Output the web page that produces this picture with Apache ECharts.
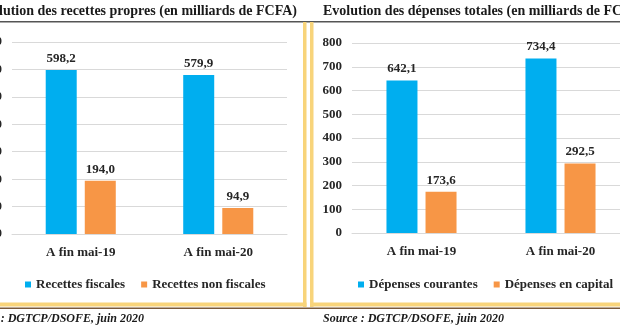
<!DOCTYPE html>
<html>
<head>
<meta charset="utf-8">
<script src="https://cdn.jsdelivr.net/npm/echarts@6/dist/echarts.min.js"></script>
<style>html,body{margin:0;padding:0;background:#fff;}#c{width:620px;height:330px;}</style>
</head>
<body>
<div id="c"></div>
<script>
const categories = ["A fin mai-19", "A fin mai-20"];
const recettesFiscales = [598.2, 579.9];
const recettesNonFiscales = [194.0, 94.9];
const depensesCourantes = [642.1, 734.4];
const depensesCapital = [173.6, 292.5];
const leftTicks = {min: 0, max: 700, interval: 100};
const rightTicks = {min: 0, max: 800, interval: 100};

const FONT = "'Liberation Serif', 'Times New Roman', serif";
const BLUE = '#00AEEF';
const ORANGE = '#F79646';
const YELLOW = '#F8D47A';
const GRID = '#D9D9D9';
const TXT = '#262626';

const chart = echarts.init(document.getElementById('c'), null, {renderer: 'canvas'});

function xAxis(gi) {
  return {
    type: 'category', gridIndex: gi, data: categories,
    axisTick: {show: false},
    axisLine: {lineStyle: {color: GRID, width: 1}},
    axisLabel: {fontFamily: FONT, fontWeight: 'bold', fontSize: 13, color: TXT, margin: 12}
  };
}
function yAxis(gi, t) {
  return {
    type: 'value', gridIndex: gi, min: t.min, max: t.max, interval: t.interval,
    axisLine: {show: false}, axisTick: {show: false},
    splitLine: {lineStyle: {color: GRID, width: 1}},
    axisLabel: {fontFamily: FONT, fontWeight: 'bold', fontSize: 13, color: TXT, margin: 10}
  };
}
function bar(name, data, color, gi) {
  return {
    type: 'bar', name, data, xAxisIndex: gi, yAxisIndex: gi,
    barWidth: 31, barGap: '26%',
    itemStyle: {color},
    label: {
      show: true, position: 'top', distance: 5,
      fontFamily: FONT, fontWeight: 'bold', fontSize: 13, color: TXT,
      formatter: p => p.value.toFixed(1).replace('.', ',')
    }
  };
}
const legendText = {fontFamily: FONT, fontWeight: 'bold', fontSize: 13, color: TXT};

chart.setOption({
  animation: false,
  title: [
    {text: 'Evolution des recettes propres (en milliards de FCFA)', right: 323, top: 4, padding: 0,
     textStyle: {fontFamily: FONT, fontWeight: 'bold', fontSize: 14, color: '#1a1a1a'}},
    {text: 'Evolution des dépenses totales (en milliards de FCFA)', left: 323, top: 4, padding: 0,
     textStyle: {fontFamily: FONT, fontWeight: 'bold', fontSize: 14, color: '#1a1a1a'}},
    {text: 'Source : DGTCP/DSOFE, juin 2020', right: 476, top: 313, padding: 0,
     textStyle: {fontFamily: FONT, fontWeight: 'bold', fontStyle: 'italic', fontSize: 12, color: '#1a1a1a'}},
    {text: 'Source : DGTCP/DSOFE, juin 2020', left: 323, top: 313, padding: 0,
     textStyle: {fontFamily: FONT, fontWeight: 'bold', fontStyle: 'italic', fontSize: 12, color: '#1a1a1a'}}
  ],
  legend: [
    {data: ['Recettes fiscales', 'Recettes non fiscales'], left: 20, top: 273, width: 320,
     icon: 'rect', itemWidth: 6, itemHeight: 6, itemGap: 16, textStyle: legendText},
    {data: ['Dépenses courantes', 'Dépenses en capital'], left: 353, top: 273, width: 320,
     icon: 'rect', itemWidth: 6, itemHeight: 6, itemGap: 16, textStyle: legendText}
  ],
  grid: [
    {left: 12, top: 42, width: 275, height: 192, outerBoundsMode: 'none', containLabel: false},
    {left: 352, top: 43, width: 278, height: 190, outerBoundsMode: 'none', containLabel: false}
  ],
  xAxis: [xAxis(0), xAxis(1)],
  yAxis: [yAxis(0, leftTicks), yAxis(1, rightTicks)],
  series: [
    bar('Recettes fiscales', recettesFiscales, BLUE, 0),
    bar('Recettes non fiscales', recettesNonFiscales, ORANGE, 0),
    bar('Dépenses courantes', depensesCourantes, BLUE, 1),
    bar('Dépenses en capital', depensesCapital, ORANGE, 1)
  ],
  graphic: [
    {type: 'rect', shape: {x: 0, y: 21, width: 620, height: 1.5}, style: {fill: '#555'}, silent: true},
    {type: 'rect', shape: {x: 303, y: 22, width: 3.5, height: 285}, style: {fill: YELLOW}, silent: true},
    {type: 'rect', shape: {x: 310, y: 22, width: 3.5, height: 285}, style: {fill: YELLOW}, silent: true},
    {type: 'rect', shape: {x: 0, y: 302.5, width: 306.5, height: 4}, style: {fill: YELLOW}, silent: true},
    {type: 'rect', shape: {x: 310, y: 302.5, width: 310, height: 4}, style: {fill: YELLOW}, silent: true},
    {type: 'rect', shape: {x: 0, y: 307.5, width: 620, height: 1.5}, style: {fill: '#7a5a3a'}, silent: true}
  ]
});
</script>
</body>
</html>
